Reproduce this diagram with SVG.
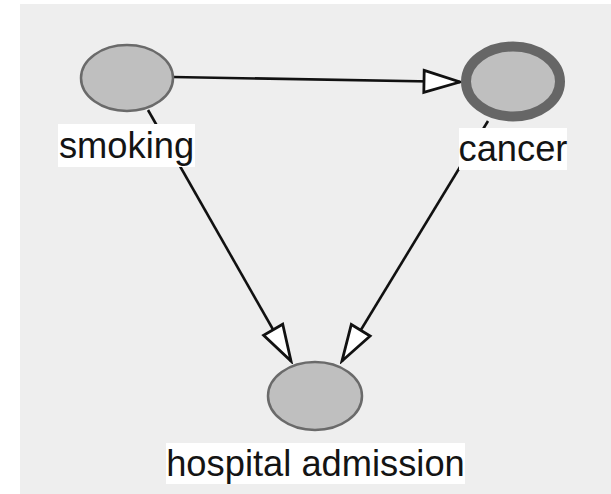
<svg xmlns="http://www.w3.org/2000/svg" width="611" height="494" viewBox="0 0 611 494">
  <style>
    .node { fill: #bfbfbf; stroke: #6a6a6a; stroke-width: 2.5; }
    .node.outcome { stroke: #666666; stroke-width: 10; }
    .edge { stroke: #111111; stroke-width: 2.6; fill: none; }
    .lblbox { fill: #ffffff; }
    .lbl { font-family: "Liberation Sans", Arial, sans-serif; font-size: 36.3px; fill: #141414; text-anchor: middle; }
  </style>
  <defs>
    <marker id="open-arrow" markerUnits="userSpaceOnUse" markerWidth="42" markerHeight="28" viewBox="-3 -3 42 28" refX="36" refY="11" orient="auto">
      <path d="M0,0 L36,11 L0,22 Z" fill="#ffffff" stroke="#111111" stroke-width="2.8" stroke-linejoin="miter"/>
    </marker>
  </defs>

  <!-- canvas -->
  <rect x="20" y="4" width="591" height="490" fill="#eeeeee"/>

  <!-- connectors -->
  <g id="edges">
    <line class="edge" x1="173" y1="77" x2="460" y2="82" marker-end="url(#open-arrow)"/>
    <line class="edge" x1="148" y1="110" x2="291" y2="361" marker-end="url(#open-arrow)"/>
    <line class="edge" x1="488" y1="121" x2="342" y2="361" marker-end="url(#open-arrow)"/>
  </g>

  <!-- nodes -->
  <g id="smoking">
    <ellipse class="node" cx="127" cy="78" rx="46" ry="33"/>
    <rect class="lblbox" x="58" y="124" width="137" height="43"/>
    <text class="lbl" x="126.5" y="158">smoking</text>
  </g>

  <g id="cancer">
    <ellipse class="node outcome" cx="513" cy="81.5" rx="47" ry="35"/>
    <rect class="lblbox" x="459" y="128" width="108" height="42"/>
    <text class="lbl" x="513" y="161">cancer</text>
  </g>

  <g id="hospital-admission">
    <ellipse class="node" cx="315" cy="396" rx="47" ry="34"/>
    <rect class="lblbox" x="166" y="443" width="299" height="41"/>
    <text class="lbl" x="315.5" y="476">hospital admission</text>
  </g>
</svg>
